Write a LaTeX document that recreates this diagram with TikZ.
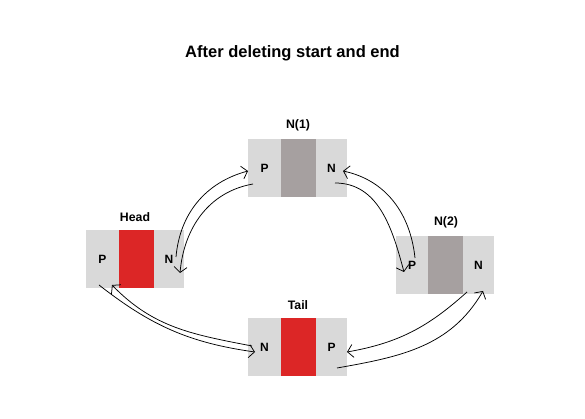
\documentclass[tikz,border=0pt]{standalone}
\usepackage{fontspec}
\setmainfont{Liberation Sans}
\usetikzlibrary{arrows.meta}
\definecolor{segL}{HTML}{D9D9D9}
\definecolor{segD}{HTML}{A6A0A0}
\definecolor{segR}{HTML}{DC2626}
\begin{document}
\begin{tikzpicture}[x=1pt,y=1pt,
  seg/.style={rectangle, minimum height=58pt, inner sep=0pt, outer sep=0pt,
    font=\bfseries\fontsize{12}{14}\selectfont, anchor=west},
  lab/.style={font=\bfseries\fontsize{12.3}{14}\selectfont, inner sep=0pt},
  link/.style={-{Straight Barb[length=5.5pt,width=13pt]}, line width=0.75pt}]
\useasboundingbox (0,0) rectangle (585,419);
\node[font=\bfseries\fontsize{16.5}{19}\selectfont] (title) at (292.5,366) {After deleting start and end};
% Head
\node[seg, fill=segL, minimum width=33pt] (hP) at (86,160) {P};
\node[seg, fill=segR, minimum width=35pt] (hM) at (119,160) {};
\node[seg, fill=segL, minimum width=30pt] (hN) at (154,160) {N};
\node[lab] (hL) at (135,202) {Head};
% N(1)
\node[seg, fill=segL, minimum width=33pt] (aP) at (248,251) {P};
\node[seg, fill=segD, minimum width=35pt] (aM) at (281,251) {};
\node[seg, fill=segL, minimum width=31pt] (aN) at (316,251) {N};
\node[lab] (aL) at (298,294) {N(1)};
% N(2)
\node[seg, fill=segL, minimum width=32pt] (bP) at (396,154) {P};
\node[seg, fill=segD, minimum width=35pt] (bM) at (428,154) {};
\node[seg, fill=segL, minimum width=31pt] (bN) at (463,154) {N};
\node[lab] (bL) at (446,197) {N(2)};
% Tail
\node[seg, fill=segL, minimum width=33pt] (tN) at (248,72) {N};
\node[seg, fill=segR, minimum width=35pt] (tM) at (281,72) {};
\node[seg, fill=segL, minimum width=31pt] (tP) at (316,72) {P};
\node[lab] (tL) at (298,114) {Tail};
% connectors Head <-> N(1)
\draw[link] ([xshift=7pt,yshift=2pt]hN.center) to[out=85,in=195] ([yshift=-3pt]aP.west);
\draw[link] ([xshift=5pt,yshift=-16pt]aP.west) to[out=190,in=85] ([xshift=11pt,yshift=-14pt]hN.center);
% N(1) <-> N(2)
\draw[link] ([xshift=3.5pt,yshift=-15pt]aN.center) to[out=0,in=105] ([xshift=-8pt,yshift=-7pt]bP.center);
\draw[link] ([xshift=3pt,yshift=7pt]bP.center) to[out=96,in=-12] ([xshift=-4pt,yshift=-3pt]aN.east);
% N(2) <-> Tail
\draw[link] ([xshift=-11.5pt,yshift=2pt]bN.south) to[out=222,in=10] ([yshift=-5pt]tP.east);
\draw[link] ([xshift=5.5pt,yshift=-21pt]tP.center) to[out=10,in=240] ([xshift=4.5pt,yshift=3pt]bN.south);
% Tail <-> Head
\draw[link] ([xshift=-3.5pt,yshift=3pt]hP.south) to[out=-38,in=172] ([xshift=-9.5pt,yshift=-5pt]tN.center);
\draw[link] ([xshift=-12.5pt,yshift=1pt]tN.center) to[out=169,in=-46] ([xshift=-7pt,yshift=3pt]hP.south east);
\end{tikzpicture}
\end{document}
